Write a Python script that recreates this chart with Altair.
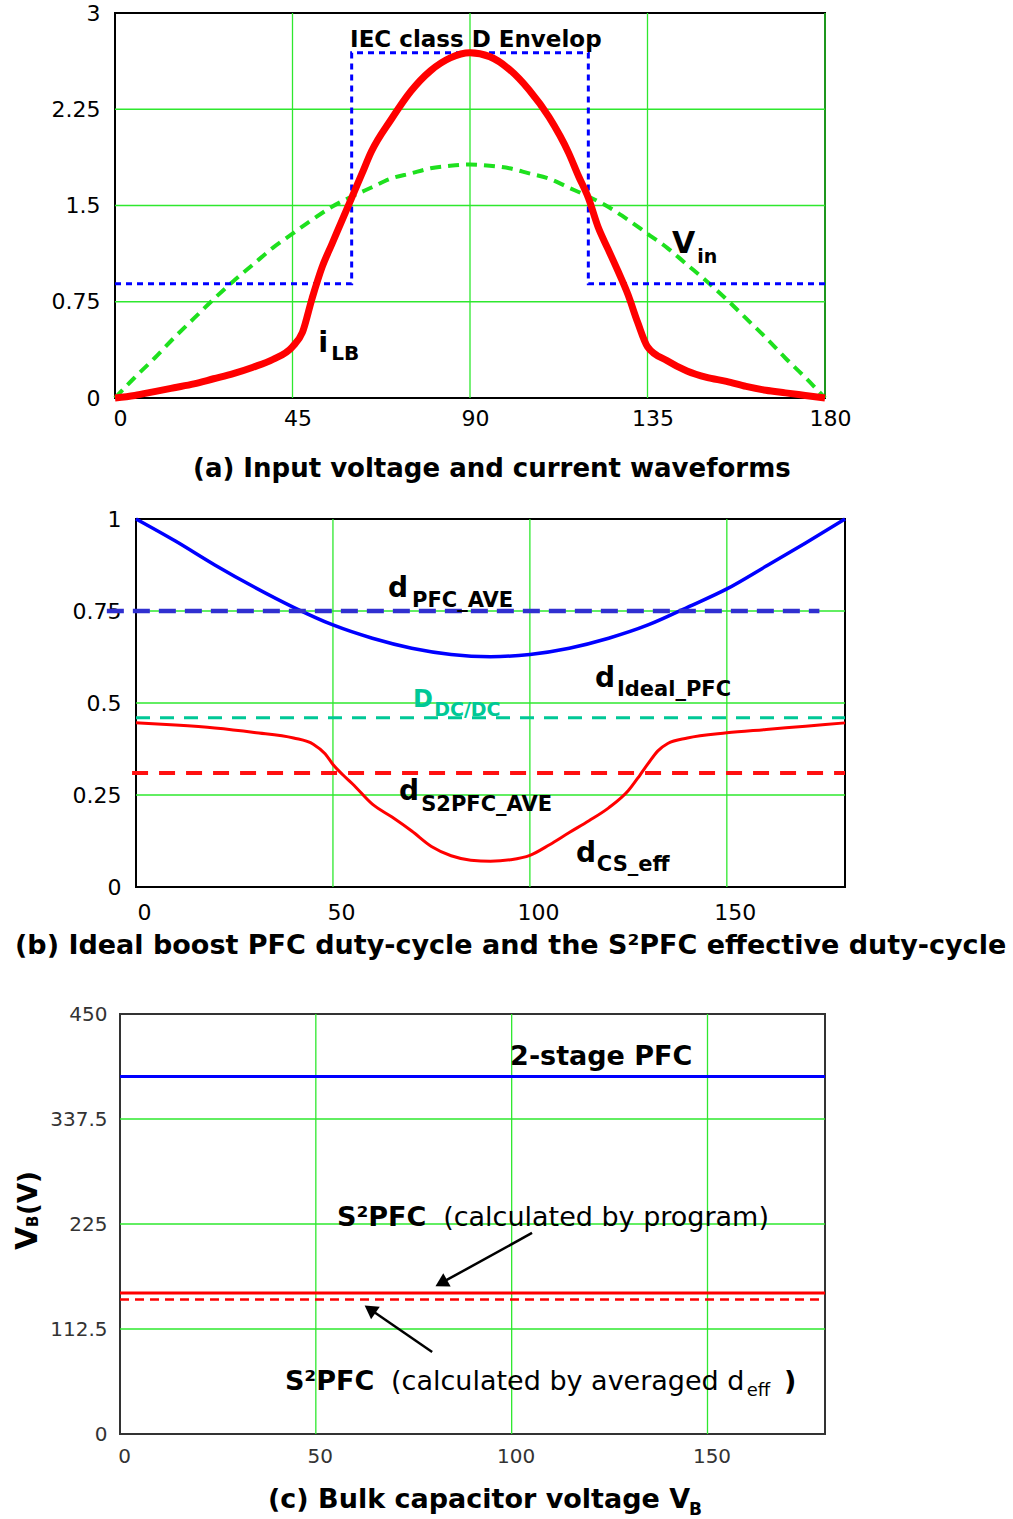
import altair as alt
import pandas as pd

SANS = "DejaVu Sans"
GRID = "#2ee82e"

# ---------------- (a) input voltage and current ----------------
vin_deg = [0, 5, 10, 15, 20, 25, 30, 35, 40, 45, 50, 55, 60, 65, 70, 75, 80, 85, 90,
           95, 100, 105, 110, 115, 120, 125, 130, 135, 140, 145, 150, 155, 160, 165, 170, 175, 180]
vin_val = [0, 0.16, 0.31, 0.47, 0.62, 0.77, 0.91, 1.04, 1.17, 1.28, 1.39, 1.49, 1.57, 1.64, 1.71, 1.75, 1.79, 1.81, 1.82,
           1.81, 1.79, 1.75, 1.71, 1.64, 1.57, 1.49, 1.39, 1.28, 1.17, 1.04, 0.91, 0.77, 0.62, 0.47, 0.31, 0.16, 0]

ilb_deg = [0, 5, 10, 15, 20, 25, 30, 35, 40, 45, 47.5, 50, 52.5, 55, 57.5, 60, 62.5, 65, 70, 75, 80, 85, 90,
           95, 100, 105, 110, 115, 117.5, 120, 122.5, 125, 127.5, 130, 132.5, 135, 140, 145, 150, 155, 160, 165, 170, 175, 180]
ilb_val = [0, 0.02, 0.05, 0.08, 0.11, 0.15, 0.19, 0.24, 0.30, 0.40, 0.51, 0.78, 1.02, 1.20, 1.38, 1.56, 1.74, 1.92, 2.17, 2.39, 2.55, 2.65, 2.69,
           2.66, 2.56, 2.40, 2.19, 1.91, 1.73, 1.56, 1.33, 1.16, 0.99, 0.81, 0.59, 0.40, 0.29, 0.21, 0.16, 0.13, 0.09, 0.06, 0.04, 0.02, 0]

env_deg = [0, 60, 60, 120, 120, 180]
env_val = [0.89, 0.89, 2.69, 2.69, 0.89, 0.89]

a_xticks = [0, 45, 90, 135, 180]
a_yticks = [0, 0.75, 1.5, 2.25, 3]

# ---------------- (b) duty cycles ----------------
d_deg = [0, 10, 20, 30, 40, 50, 60, 70, 80, 90, 100, 110, 120, 130, 140, 150, 160, 170, 180]
d_ideal = [1.0, 0.94, 0.875, 0.815, 0.76, 0.712, 0.676, 0.649, 0.632, 0.626,
           0.632, 0.649, 0.676, 0.712, 0.76, 0.81, 0.872, 0.935, 1.0]

cs_deg = [0, 10, 20, 30, 40, 45, 48, 50, 52.5, 55, 60, 65, 70, 75, 80, 85, 90, 95, 100, 105, 110,
          115, 120, 125, 128, 130, 132.5, 135, 140, 150, 160, 170, 180]
cs_eff = [0.446, 0.44, 0.432, 0.42, 0.405, 0.388, 0.362, 0.333, 0.305, 0.28, 0.225, 0.19, 0.152, 0.11, 0.085, 0.073, 0.07,
          0.074, 0.086, 0.115, 0.148, 0.18, 0.215, 0.262, 0.305, 0.335, 0.37, 0.39, 0.405, 0.419, 0.428, 0.437, 0.446]

d_pfc_ave = 0.75
d_dcdc = 0.46
d_s2pfc_ave = 0.31

b_xticks = [0, 50, 100, 150]
b_yticks = [0, 0.25, 0.5, 0.75, 1]

# ---------------- (c) bulk capacitor voltage ----------------
vb_two_stage = 383
vb_s2pfc_program = 151
vb_s2pfc_avg = 144

c_xticks = [0, 50, 100, 150]
c_yticks = [0, 112.5, 225, 337.5, 450]


def make_axis(values, size, pad, offset=0, color="black"):
    return alt.Axis(values=values, title=None, labelExpr="toString(datum.value)", grid=False,
                    domain=False, ticks=False, labelFont=SANS, labelFontSize=size, labelColor=color,
                    labelPadding=pad, labelOffset=offset, labelFlush=False, labelOverlap=False)


class Panel:
    """Shared scales and axes for every layer of one panel."""

    def __init__(self, xdom, ydom, xaxis, yaxis):
        self.xs = alt.Scale(domain=xdom, nice=False, zero=False)
        self.ys = alt.Scale(domain=ydom, nice=False, zero=False)
        self.xa = xaxis
        self.ya = yaxis

    def X(self, f):
        return alt.X(f, scale=self.xs, axis=self.xa)

    def Y(self, f):
        return alt.Y(f, scale=self.ys, axis=self.ya)

    def grid(self, xv, yv):
        vx = alt.Chart(pd.DataFrame({"v": xv})).mark_rule(color=GRID, strokeWidth=1.3).encode(x=self.X("v:Q"))
        hy = alt.Chart(pd.DataFrame({"v": yv})).mark_rule(color=GRID, strokeWidth=1.3).encode(y=self.Y("v:Q"))
        return [vx, hy]

    def curve(self, xs, ys, color, width, dash=None, interp="monotone", order=False):
        df = pd.DataFrame({"x": xs, "y": ys, "i": list(range(len(xs)))})
        kw = dict(color=color, strokeWidth=width, interpolate=interp)
        if dash:
            kw["strokeDash"] = dash
        enc = dict(x=self.X("x:Q"), y=self.Y("y:Q"))
        if order:
            enc["order"] = alt.Order("i:Q")
        return alt.Chart(df).mark_line(**kw).encode(**enc)

    def level(self, x0, x1, val, color, width, dash=None):
        df = pd.DataFrame({"x": [x0], "x2": [x1], "y": [val]})
        kw = dict(color=color, strokeWidth=width)
        if dash:
            kw["strokeDash"] = dash
        return alt.Chart(df).mark_rule(**kw).encode(x=self.X("x:Q"), x2="x2:Q", y=self.Y("y:Q"))

    def note(self, x, y, s, size, weight="bold", color="black"):
        df = pd.DataFrame({"x": [x], "y": [y], "t": [s]})
        return alt.Chart(df).mark_text(align="left", baseline="alphabetic", font=SANS, fontSize=size,
                                       fontWeight=weight, color=color).encode(
            x=self.X("x:Q"), y=self.Y("y:Q"), text="t:N")


def pix(x, y, s, size, weight="bold", angle=0, color="black"):
    return alt.Chart(pd.DataFrame({"t": [s]})).mark_text(
        align="left", baseline="alphabetic", font=SANS, fontSize=size, fontWeight=weight,
        color=color, angle=angle).encode(x=alt.value(x), y=alt.value(y), text="t:N")


def marker(y):
    # invisible point that fixes the vertical extent of a panel
    return alt.Chart(pd.DataFrame({"k": [0]})).mark_point(
        filled=True, size=1, opacity=0, strokeWidth=0).encode(x=alt.value(0), y=alt.value(y))


def spacer(w):
    return alt.Chart(pd.DataFrame({"k": [0]})).mark_point(opacity=0).properties(
        width=w, height=10, view=alt.ViewBackground(strokeOpacity=0, strokeWidth=0))


# ---- panel (a)
WA, HA = 710, 385
pa = Panel([0, 180], [0, 3], make_axis(a_xticks, 22, 10, 5), make_axis(a_yticks, 22, 15))
panel_a = alt.layer(
    *pa.grid(a_xticks[1:], a_yticks[1:-1]),
    pa.curve(vin_deg, vin_val, "#1ee01e", 4, dash=[11, 7]),
    pa.curve(env_deg, env_val, "#0000ff", 3, dash=[6, 5], interp="linear", order=True),
    pa.curve(ilb_deg, ilb_val, "#ff0000", 7),
    pa.note(59.6, 2.735, "IEC class D Envelop", 23),
    pa.note(51.5, 0.358, "i", 29),
    pa.note(54.8, 0.296, "LB", 20),
    pa.note(141.2, 1.13, "V", 30),
    pa.note(147.6, 1.052, "in", 19),
    pix(78, 464, "(a) Input voltage and current waveforms", 26),
    marker(-11), marker(HA + 100),
).properties(width=WA, height=HA)

# ---- panel (b)
WB, HB = 709, 368
pb = Panel([0, 180], [0, 1], make_axis(b_xticks, 22, 15, 8), make_axis(b_yticks, 22, 15))
panel_b = alt.layer(
    *pb.grid(b_xticks[1:], b_yticks[1:-1]),
    pb.curve(d_deg, d_ideal, "#0000ff", 3.5),
    pb.curve(cs_deg, cs_eff, "#ff0000", 3),
    pb.level(-7.4, 173.5, d_pfc_ave, "#3030d0", 4.5, dash=[17, 9]),
    pb.level(0, 180, d_dcdc, "#00c896", 3, dash=[14, 10]),
    pb.level(-1, 180, d_s2pfc_ave, "#ff1010", 4, dash=[16, 11]),
    pb.note(64.0, 0.788, "d", 28),
    pb.note(70.1, 0.761, "PFC_AVE", 21),
    pb.note(116.5, 0.543, "d", 28),
    pb.note(122.1, 0.519, "Ideal_PFC", 21),
    pb.note(70.3, 0.489, "D", 24, color="#00c896"),
    pb.note(75.7, 0.465, "DC/DC", 19, color="#00c896"),
    pb.note(66.8, 0.236, "d", 28),
    pb.note(72.4, 0.207, "S2PFC_AVE", 21),
    pb.note(111.7, 0.068, "d", 28),
    pb.note(117.0, 0.043, "CS_eff", 21),
    pix(-121, 435, "(b) Ideal boost PFC duty-cycle and the S\u00b2PFC effective duty-cycle", 27),
    marker(-17), marker(HB + 101),
).properties(width=WB, height=HB)

# ---- panel (c)
WC, HC = 705, 420
pc = Panel([0, 180], [0, 450], make_axis(c_xticks, 20, 12, 4, color="#333"),
           make_axis(c_yticks, 20, 13, color="#333"))

arrows = pd.DataFrame({
    "x": [105.2, 79.7], "y": [215.4, 87.9],
    "hx": [82.5, 64.3], "hy": [162.9, 132.3],
    "ang": [241, 305],
})
arrow_shafts = alt.Chart(arrows).mark_rule(color="black", strokeWidth=2.5).encode(
    x=pc.X("x:Q"), y=pc.Y("y:Q"), x2="hx:Q", y2="hy:Q")
arrow_heads = alt.Chart(arrows).mark_point(shape="triangle", filled=True, size=230, color="black", opacity=1).encode(
    x=pc.X("hx:Q"), y=pc.Y("hy:Q"), angle=alt.Angle("ang:Q", scale=None))

panel_c = alt.layer(
    *pc.grid(c_xticks[1:], c_yticks[1:-1]),
    pc.level(0, 180, vb_two_stage, "#0000ff", 3),
    pc.level(0, 180, vb_s2pfc_program, "#ff0000", 3),
    pc.level(0, 180, vb_s2pfc_avg, "#ff0000", 2.5, dash=[9, 6]),
    arrow_shafts, arrow_heads,
    pc.note(99.6, 395.4, "2-stage PFC", 27),
    pc.note(55.4, 222.9, "S\u00b2PFC", 27),
    pc.note(82.5, 222.9, "(calculated by program)", 27, weight="normal"),
    pc.note(42.1, 47.1, "S\u00b2PFC", 27),
    pc.note(69.2, 47.1, "(calculated by averaged d", 27, weight="normal"),
    pc.note(160.0, 40.7, "eff", 18, weight="normal"),
    pc.note(169.5, 47.1, ")", 27),
    pix(-83, 236, "V", 30, angle=270),
    pix(-82, 213, "B", 15, angle=270),
    pix(-83, 201, "(V)", 26, angle=270),
    pix(148, 494, "(c) Bulk capacitor voltage V", 27),
    pix(569, 501, "B", 17),
    marker(-22), marker(HC + 83),
).properties(width=WC, height=HC, view=alt.ViewBackground(stroke="#333", strokeWidth=2))


def row(left, panel):
    return alt.hconcat(spacer(left), panel, spacing=0, bounds="flush")


chart = alt.vconcat(row(115, panel_a), row(136, panel_b), row(120, panel_c), spacing=0).properties(
    padding=0
).configure_view(stroke="black", strokeWidth=2)

chart.save("out.html", embed_options={"renderer": "svg", "actions": False})
